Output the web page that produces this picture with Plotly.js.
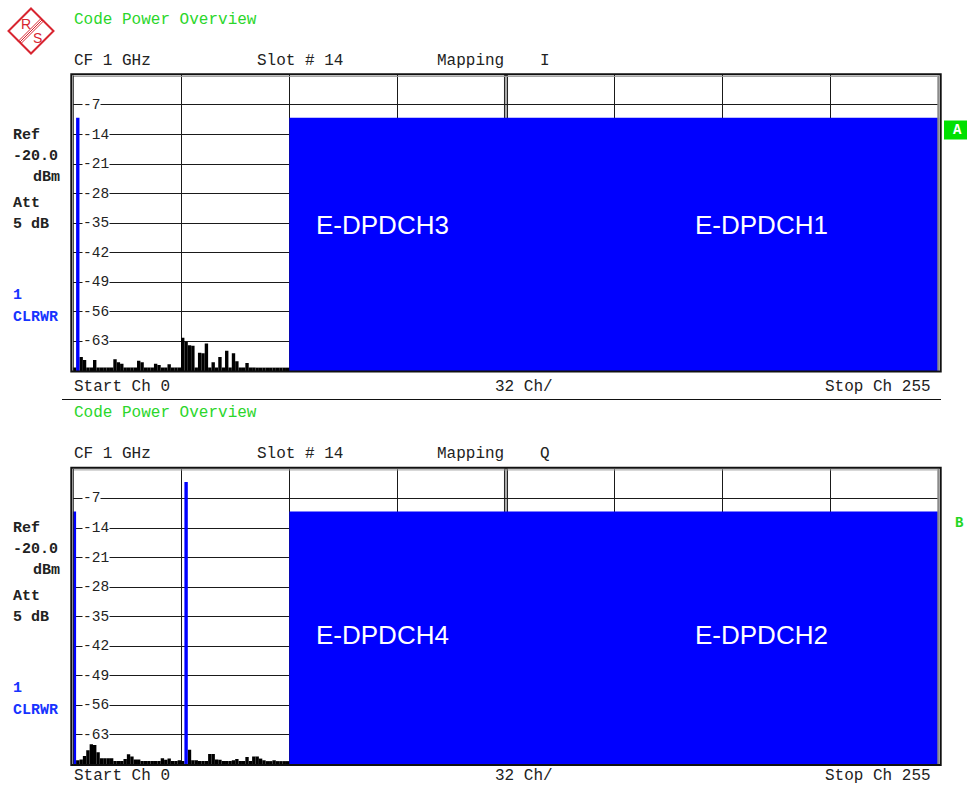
<!DOCTYPE html>
<html><head><meta charset="utf-8">
<script src="https://cdn.plot.ly/plotly-3.0.1.min.js"></script>
<style>html,body{margin:0;padding:0;background:#fff}</style>
</head><body><div id="chart" style="width:967px;height:786px"></div>
<script>
// ---------------- DATA ----------------
// Code channels 0..63 (low part of the code domain, inactive codes = noise)
const codesLow = Array.from({length: 64}, (_, i) => i);
// I branch noise power per code (dB rel. Ref), null = active code
const noiseI = [
  -69.2, null, -66.7, -67.4, -69.2, -69.2, -67.4, -69.2,
  -69.2, -69.2, -69.2, -69.2, -67.2, -67.9, -68.3, -69.2,
  -69.2, -69.2, -69.2, -67.6, -67.9, -69.2, -69.2, -69.2,
  -68.3, -68.6, -69.2, -69.2, -68.4, -69.2, -69.2, -69.2,
  -62.1, -63.1, -63.9, -64.0, -69.2, -65.7, -65.8, -63.5,
  -69.2, -67.9, -69.2, -66.7, -69.2, -65.2, -69.2, -65.8,
  -67.7, -69.2, -69.2, -68.1, -69.2, -69.2, -69.2, -69.2,
  -69.2, -69.2, -69.2, -69.2, -69.2, -69.2, -69.2, -69.2
];
// Q branch noise power per code
const noiseQ = [
  null, -69.0, -68.8, -68.0, -66.6, -65.2, -65.4, -67.1,
  -68.5, -68.5, -68.5, -68.5, -69.2, -69.2, -69.2, -68.7,
  -67.6, -68.1, -68.8, -68.8, -69.2, -69.2, -69.2, -69.2,
  -69.2, -69.2, -68.5, -68.9, -68.6, -69.2, -69.2, -69.0,
  -69.2, null, -66.5, -69.0, -69.0, -69.2, -69.2, -69.2,
  -67.5, -67.5, -68.8, -68.9, -69.2, -69.2, -69.2, -69.0,
  -68.7, -69.2, -69.2, -68.2, -69.2, -68.1, -68.1, -68.6,
  -69.0, -69.2, -69.2, -69.0, -69.2, -69.2, -69.2, -69.2
];
// Active channels (start code, number of codes, power)
const chanNameI  = ['E-DPCCH', 'E-DPDCH3', 'E-DPDCH1'];
const chanStartI = [1, 64, 128];
const chanCountI = [1, 64, 128];
const chanPowerI = [-10.0, -10.0, -10.0];
const chanNameQ  = ['DPCCH', 'HS-DPCCH', 'E-DPDCH4', 'E-DPDCH2'];
const chanStartQ = [0, 33, 64, 128];
const chanCountQ = [1, 1, 64, 128];
const chanPowerQ = [-10.1, -3.1, -10.1, -10.1];
const refLevel = -70;           // bottom of display
const yTicks = [-7, -14, -21, -28, -35, -42, -49, -56, -63];
const gridCodes = [32, 64, 96, 160, 192, 224];
const labelsI = ['E-DPDCH3', 'E-DPDCH1'];
const labelsQ = ['E-DPDCH4', 'E-DPDCH2'];
const mapping = ['I', 'Q'];
const sideLabels = ['Ref', '-20.0', 'dBm', 'Att', '5 dB'];
const traceLabels = ['1', 'CLRWR'];
const headerTexts = ['CF 1 GHz', 'Slot # 14', 'Mapping'];
const footerTexts = ['Start Ch 0', '32 Ch/', 'Stop Ch 255'];
const markers = ['A', 'B'];

// ---------------- LAYOUT HELPERS ----------------
const W = 967, H = 786;
const px = x => x / W;
const py = y => 1 - y / H;
const MONO = 'Liberation Mono, Courier New, monospace';
const SANS = 'Liberation Sans, Arial, sans-serif';
const GREEN = '#2bd62b';
const BLUE = '#0000ff';
const TXTBLUE = '#1733ff';

const plotX0 = 72.7, plotX1 = 939.3;
const plots = [
  {top: 75.4, bot: 371.0, off: 0},
  {top: 468.9, bot: 764.5, off: 393.5}
];

const data = [];
const shapes = [];
const annotations = [];
function txt(text, x, y, o) {
  annotations.push(Object.assign({
    text: text, x: px(x), y: py(y), xref: 'paper', yref: 'paper',
    xanchor: 'left', yanchor: 'middle', showarrow: false, borderpad: 0,
    font: {family: MONO, size: 16, color: '#222'}
  }, o || {}));
}

const layout = {
  width: W, height: H, autosize: false,
  margin: {l: 0, r: 0, t: 0, b: 0, pad: 0},
  paper_bgcolor: '#fff', plot_bgcolor: '#fff',
  showlegend: false, barmode: 'overlay',
  shapes: shapes, annotations: annotations
};

const noiseSets = [noiseI, noiseQ];
const actSets = [
  [chanStartI, chanCountI, chanPowerI],
  [chanStartQ, chanCountQ, chanPowerQ]
];
const labelSets = [labelsI, labelsQ];
const labelPos = [[382, 225], [761, 225], [382, 634.5], [761, 634.5]];

plots.forEach((p, k) => {
  const xa = k === 0 ? 'x' : 'x2', ya = k === 0 ? 'y' : 'y2';
  const xk = k === 0 ? 'xaxis' : 'xaxis2', yk = k === 0 ? 'yaxis' : 'yaxis2';
  layout[xk] = {
    domain: [px(plotX0), px(plotX1)], range: [0, 256], anchor: ya,
    tickmode: 'array', tickvals: gridCodes, showticklabels: false, ticks: '',
    showgrid: true, gridcolor: '#1a1a1a', gridwidth: 1,
    zeroline: false, showline: false, fixedrange: true
  };
  layout[yk] = {
    domain: [py(p.bot), py(p.top)], range: [refLevel, 0], anchor: xa,
    tickmode: 'array', tickvals: yTicks, showticklabels: false, ticks: '',
    showgrid: true, gridcolor: '#1a1a1a', gridwidth: 1,
    zeroline: false, showline: false, fixedrange: true
  };
  // noise bars
  data.push({
    type: 'bar', xaxis: xa, yaxis: ya,
    x: codesLow, y: noiseSets[k].map(v => v == null ? null : v - refLevel),
    base: refLevel, width: 1, offset: 0,
    marker: {color: '#000', line: {width: 0}}, hoverinfo: 'skip'
  });
  // active channels
  const [st, ct, pw] = actSets[k];
  data.push({
    type: 'bar', xaxis: xa, yaxis: ya,
    x: st, y: pw.map(v => v - refLevel), base: refLevel,
    width: ct, offset: 0,
    marker: {color: BLUE, line: {width: 0}}, hoverinfo: 'skip'
  });
  // centre double line (code 128)
  shapes.push({type: 'rect', xref: xa, yref: ya + ' domain', x0: 127.55, x1: 128.45, y0: 0, y1: 1,
    fillcolor: '#aaa', line: {color: '#222', width: 1}, layer: 'below'});
  // frame
  const o = p.off;
  shapes.push({type: 'rect', xref: 'paper', yref: 'paper', x0: px(71.3), x1: px(940.7), y0: py(74.3 + o), y1: py(p.bot + 0.6),
    line: {color: '#111', width: 2}, fillcolor: 'rgba(0,0,0,0)'});
  shapes.push({type: 'line', xref: 'paper', yref: 'paper', x0: px(938.3), x1: px(938.3), y0: py(75.5 + o), y1: py(p.bot - 0.5),
    line: {color: '#8a8a8a', width: 2}});
  shapes.push({type: 'line', xref: 'paper', yref: 'paper', x0: px(73.3), x1: px(937.5), y0: py(76.4 + o), y1: py(76.4 + o),
    line: {color: '#9a9a9a', width: 1}});
  shapes.push({type: 'line', xref: 'paper', yref: 'paper', x0: px(73.3), x1: px(73.3), y0: py(75.5 + o), y1: py(p.bot),
    line: {color: '#222', width: 1}});
  // y tick labels inside the plot
  yTicks.forEach(v => {
    annotations.push({
      text: String(v), xref: xa + ' domain', x: (82 - plotX0) / (plotX1 - plotX0),
      yref: ya, y: v, xanchor: 'left', yanchor: 'middle', showarrow: false,
      bgcolor: '#fff', borderpad: 0,
      font: {family: MONO, size: 14.5, color: '#222'}
    });
  });
  // channel labels
  labelSets[k].forEach((t, j) => {
    const lp = labelPos[k * 2 + j];
    txt(t, lp[0], lp[1], {xanchor: 'center', font: {family: SANS, size: 26, color: '#fff'}});
  });
  // header / footer texts
  txt('Code Power Overview', 72.5, 19.5 + o, {font: {family: MONO, size: 16, color: GREEN}});
  txt(headerTexts[0], 72.5, 60.5 + o);
  txt(headerTexts[1], 255.5, 60.5 + o);
  txt(headerTexts[2], 435.5, 60.5 + o);
  txt(mapping[k], 538.5, 60.5 + o);
  if (k === 0) {
    txt(footerTexts[0], 72.5, 386.5);
    txt(footerTexts[1], 493.5, 386.5);
    txt(footerTexts[2], 932, 386.5, {xanchor: 'right'});
  } else {
    txt(footerTexts[0], 72.5, 786, {yanchor: 'bottom'});
    txt(footerTexts[1], 493.5, 786, {yanchor: 'bottom'});
    txt(footerTexts[2], 932, 786, {xanchor: 'right', yanchor: 'bottom'});
  }
  // left side info
  const sy = [135, 156, 177, 203, 224];
  const sx = [12, 12, 32, 12, 12];
  sideLabels.forEach((t, j) => txt('<b>' + t + '</b>', sx[j], sy[j] + o, {font: {family: MONO, size: 15, color: '#222'}}));
  txt('<b>' + traceLabels[0] + '</b>', 12, 295 + o, {font: {family: MONO, size: 15, color: TXTBLUE}});
  txt('<b>' + traceLabels[1] + '</b>', 12, 317 + o, {font: {family: MONO, size: 15, color: TXTBLUE}});
});

// separator line
shapes.push({type: 'line', xref: 'paper', yref: 'paper', x0: px(62), x1: px(941), y0: py(399.5), y1: py(399.5),
  line: {color: '#111', width: 1}});

// marker "A" box and "B"
shapes.push({type: 'rect', xref: 'paper', yref: 'paper', x0: px(944), x1: px(967), y0: py(120.5), y1: py(139.5),
  fillcolor: '#00e000', line: {width: 0}});
txt('<b>' + markers[0] + '</b>', 957, 130.5, {xanchor: 'center', font: {family: MONO, size: 14, color: '#fff'}});
txt('<b>' + markers[1] + '</b>', 959.5, 522.5, {xanchor: 'center', font: {family: MONO, size: 14, color: '#22d622'}});

// R&S logo
function pathPx(pts) {
  return pts.map((p, i) => (i ? 'L ' : 'M ') + px(p[0]).toFixed(5) + ' ' + py(p[1]).toFixed(5)).join(' ') + ' Z';
}
const RED = '#d82530';
shapes.push({type: 'path', xref: 'paper', yref: 'paper',
  path: pathPx([[31, 8.5], [53.5, 31], [31, 53.5], [8.5, 31]]),
  line: {color: RED, width: 2}, fillcolor: 'rgba(0,0,0,0)'});
[59.5, 62, 64.5].forEach(s => {
  // line x+y=s between the two diamond edges
  const x1 = (s + 23) / 2, y1 = (s - 23) / 2;
  const x2 = (s - 23) / 2, y2 = (s + 23) / 2;
  shapes.push({type: 'line', xref: 'paper', yref: 'paper', x0: px(x1), y0: py(y1), x1: px(x2), y1: py(y2),
    line: {color: RED, width: 1}});
});
txt('R', 25.5, 24, {xanchor: 'center', font: {family: SANS, size: 14, color: RED}});
txt('S', 37, 37.5, {xanchor: 'center', font: {family: SANS, size: 14, color: RED}});

Plotly.newPlot('chart', data, layout, {displayModeBar: false, staticPlot: true});
</script>
</body></html>
